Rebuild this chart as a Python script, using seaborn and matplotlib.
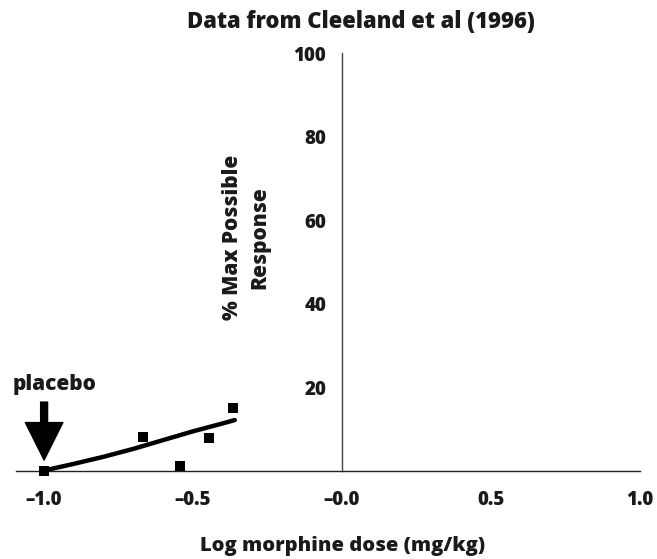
import matplotlib
matplotlib.use("Agg")
import matplotlib.pyplot as plt
import seaborn as sns
import pandas as pd

# 数据点
dose_pts = [-1.0, -0.668, -0.544, -0.446, -0.366]
resp_pts = [0.0, 8.1, 1.1, 7.8, 15.1]

# 拟合曲线上的读数点
curve_x = [-1.0, -0.9, -0.8, -0.7, -0.6, -0.5, -0.4, -0.36]
curve_y = [0.0, 1.6, 3.3, 5.2, 7.3, 9.4, 11.3, 12.1]

x_ticks = [-1.0, -0.5, 0.0, 0.5, 1.0]
x_ticklabels = ["\u20131.0", "\u20130.5", "\u20130.0", "0.5", "1.0"]
y_ticks = [20, 40, 60, 80, 100]

sns.set_style("white")
plt.rcParams["font.family"] = ["Open Sans", "DejaVu Sans"]

W = 800  # 字重

fig = plt.figure(figsize=(6.57, 5.59), dpi=100)
ax = fig.add_axes([0.0236, 0.1583, 0.9505, 0.7463])

df_pts = pd.DataFrame({"dose": dose_pts, "resp": resp_pts})
df_curve = pd.DataFrame({"dose": curve_x, "resp": curve_y})

sns.lineplot(data=df_curve, x="dose", y="resp", color="black", linewidth=3.2,
             ax=ax, clip_on=False, zorder=3)
sns.scatterplot(data=df_pts, x="dose", y="resp", marker="s", s=48, color="black",
                edgecolor="black", linewidth=0, ax=ax, clip_on=False, zorder=4)

ax.set_xlim(-1.096, 1.0)
ax.set_ylim(0, 100)

# 坐标轴样式：y轴放在x=0处
for s in ["top", "right"]:
    ax.spines[s].set_visible(False)
ax.spines["left"].set_position(("data", 0))
ax.spines["left"].set_color("#444444")
ax.spines["bottom"].set_color("#222222")
ax.spines["left"].set_linewidth(1.0)
ax.spines["bottom"].set_linewidth(1.0)

ax.set_xticks(x_ticks)
ax.set_xticklabels(x_ticklabels)
ax.set_yticks(y_ticks)
ax.tick_params(axis="x", direction="in", length=7, width=0.8, color="#555555",
               pad=14, labelsize=13.5)
ax.tick_params(axis="y", direction="in", length=6.5, width=0.8, color="#555555",
               pad=11.5, labelsize=13.5)
for lab in ax.get_xticklabels() + ax.get_yticklabels():
    lab.set_fontweight(W)
    lab.set_color("#1a1a1a")

ax.set_xlabel("Log morphine dose (mg/kg)", fontsize=14.5, fontweight=W, color="#1a1a1a")
ax.xaxis.set_label_coords(0.524, -0.157)
ax.xaxis.label.set_va("top")
ax.set_ylabel("")

fig.text(246 / 657, 1 - 237.5 / 559, "% Max Possible\nResponse", rotation=90,
         ha="center", va="center", multialignment="center", fontsize=15,
         fontweight=W, color="#1a1a1a", linespacing=1.37)

fig.text(361 / 657, 1 - 22 / 559, "Data from Cleeland et al (1996)", ha="center",
         va="center", fontsize=15.8, fontweight=W, color="#1a1a1a")

# placebo 箭头
ax.annotate("", xy=(-1.0, 2.5), xytext=(-1.0, 16.4),
            arrowprops=dict(facecolor="black", edgecolor="black", width=5,
                            headwidth=27, headlength=27, shrink=0),
            annotation_clip=False)
ax.text(-0.966, 20.6, "placebo", ha="center", va="center", fontsize=15,
        fontweight=W, color="#1a1a1a")

fig.savefig("out.png", dpi=100)
